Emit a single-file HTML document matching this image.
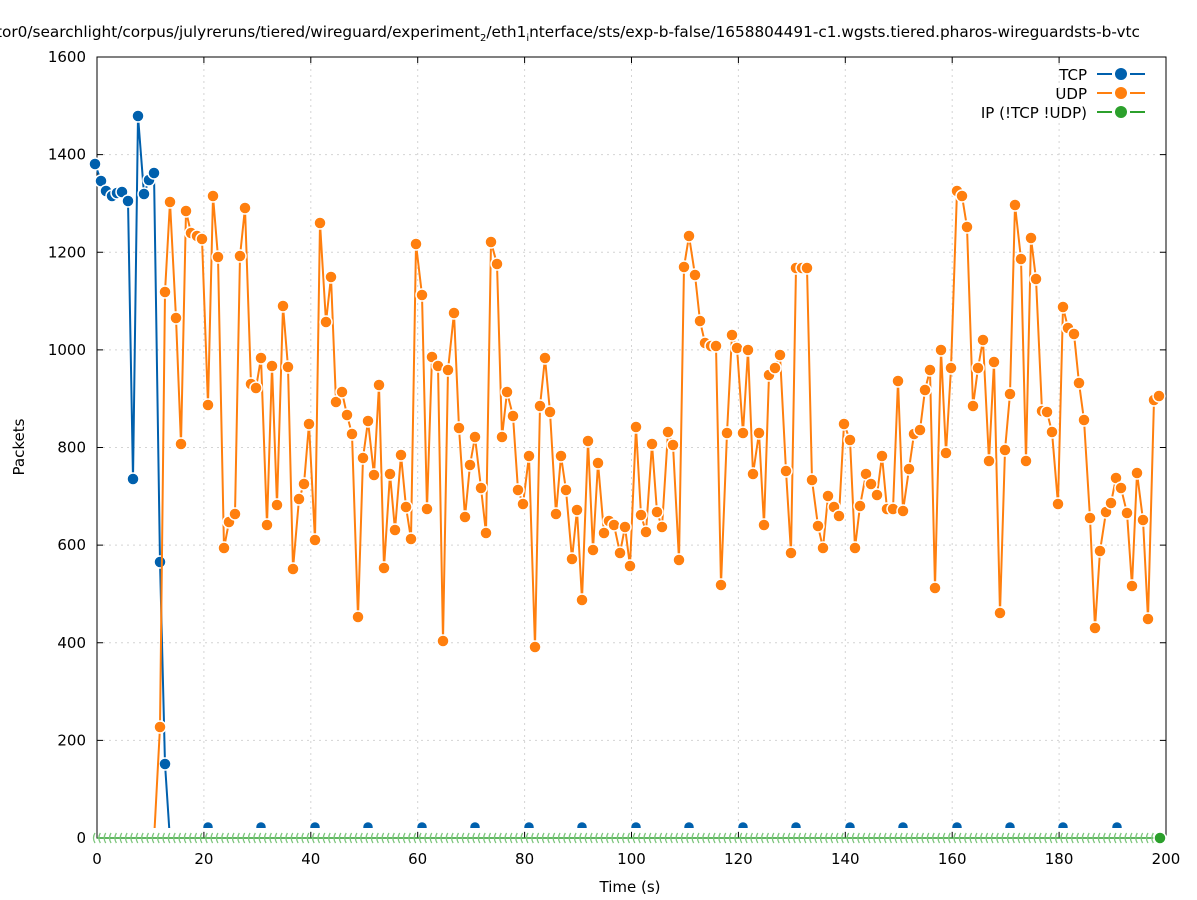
<!DOCTYPE html>
<html><head><meta charset="utf-8"><style>
html,body{margin:0;padding:0;background:#fff;width:1197px;height:900px;overflow:hidden}
svg{display:block;font-family:"DejaVu Sans","Liberation Sans",sans-serif}
</style></head><body>
<svg id="s" width="1197" height="900" viewBox="0 0 1197 900" xmlns="http://www.w3.org/2000/svg">
<defs><clipPath id="pc"><rect x="85" y="57" width="1085" height="771"/></clipPath></defs>
<g id="grid" stroke="#d4d4d4" stroke-width="1" stroke-dasharray="2,4"></g>
<g id="axes" stroke="#000" stroke-width="1" fill="none"></g>
<g id="labels" font-size="15" fill="#000"></g>
<text x="-4" y="37" font-size="15.3">tor0/searchlight/corpus/julyreruns/tiered/wireguard/experiment<tspan font-size="10" dy="4">2</tspan><tspan dy="-4">/eth1</tspan><tspan font-size="10" dy="4">i</tspan><tspan dy="-4">nterface/sts/exp-b-false/1658804491-c1.wgsts.tiered.pharos-wireguardsts-b-vtc</tspan></text>
<text x="630" y="892" font-size="15" text-anchor="middle">Time (s)</text>
<text transform="translate(24,447) rotate(-90)" font-size="15" text-anchor="middle">Packets</text>
<g id="data"></g>
<g font-size="15" text-anchor="end" xml:space="preserve" style="white-space:pre">
<text x="1087" y="80">TCP</text>
<text x="1087" y="99">UDP</text>
<text x="1087" y="118">IP (!TCP  !UDP)</text>
</g>
<g stroke-width="2">
<path d="M1097 74h15M1130 74h15" stroke="#0060ad"/><circle cx="1121" cy="74" r="6" fill="#0060ad"/>
<path d="M1097 93h15M1130 93h15" stroke="#ff7f0e"/><circle cx="1121" cy="93" r="6" fill="#ff7f0e"/>
<path d="M1097 112h15M1130 112h15" stroke="#2ca02c"/><circle cx="1121" cy="112" r="6" fill="#2ca02c"/>
</g>
</svg>
<script>
var NS="http://www.w3.org/2000/svg";
function el(p,t,a,txt){var e=document.createElementNS(NS,t);for(var k in a)e.setAttribute(k,a[k]);if(txt!=null)e.textContent=txt;p.appendChild(e);return e;}
var g=document.getElementById('grid'),ax=document.getElementById('axes'),lb=document.getElementById('labels');
var X0=97,X1=1166,Y0=838,Y1=57;
for(var i=0;i<=10;i++){var x=X0+(X1-X0)*i/10;if(i>0&&i<10)el(g,'line',{x1:x,y1:Y1,x2:x,y2:Y0});
 el(ax,'line',{x1:x,y1:Y0,x2:x,y2:Y0-6});el(ax,'line',{x1:x,y1:Y1,x2:x,y2:Y1+6});
 el(lb,'text',{x:x,y:864,'text-anchor':'middle'},String(i*20));}
for(var i=0;i<=8;i++){var y=Y0-(Y0-Y1)*i/8;if(i>0&&i<8)el(g,'line',{x1:X0,y1:y,x2:X1,y2:y});
 el(ax,'line',{x1:X0,y1:y,x2:X0+6,y2:y});el(ax,'line',{x1:X1,y1:y,x2:X1-6,y2:y});
 el(lb,'text',{x:86,y:y+5,'text-anchor':'end'},String(i*200));}
el(ax,'rect',{x:X0,y:Y1,width:X1-X0,height:Y0-Y1});
var d=document.getElementById('data');
var ip=el(d,'g',{});
el(ip,'line',{x1:X0,y1:838,x2:1160,y2:838,stroke:'#2ca02c','stroke-width':1.5});
for(var x=X0-4;x<1160;x+=5.345){el(ip,'path',{d:'M'+(x+2)+' 833 q-3 5 0 10',stroke:'#7cc57c','stroke-width':1.3,fill:'none'});}
el(ip,'circle',{cx:1160,cy:838,r:6,fill:'#2ca02c',stroke:'#fff','stroke-width':1.5});
var cg=el(d,'g',{'clip-path':'url(#pc)'});
var tcp=[[95,164],[101,181],[106,191],[112,196],[117,193],[122,192],[128,201],[133,479],[138,116],[144,194],[149,180],[154,173],[160,562],[165,764],[170,840]];
var udp=[[154,840],[160,727],[165,292],[170,202],[176,318],[181,444],[186,211],[191,233],[197,236],[202,239],[208,405],[213,196],[218,257],[224,548],[229,522],[235,514],[240,256],[245,208],[251,384],[256,388],[261,358],[267,525],[272,366],[277,505],[283,306],[288,367],[293,569],[299,499],[304,484],[309,424],[315,540],[320,223],[326,322],[331,277],[336,402],[342,392],[347,415],[352,434],[358,617],[363,458],[368,421],[374,475],[379,385],[384,568],[390,474],[395,530],[401,455],[406,507],[411,539],[416,244],[422,295],[427,509],[432,357],[438,366],[443,641],[448,370],[454,313],[459,428],[465,517],[470,465],[475,437],[481,488],[486,533],[491,242],[497,264],[502,437],[507,392],[513,416],[518,490],[523,504],[529,456],[535,647],[540,406],[545,358],[550,412],[556,514],[561,456],[566,490],[572,559],[577,510],[582,600],[588,441],[593,550],[598,463],[604,533],[609,521],[614,525],[620,553],[625,527],[630,566],[636,427],[641,515],[646,532],[652,444],[657,512],[662,527],[668,432],[673,445],[679,560],[684,267],[689,236],[695,275],[700,321],[705,343],[711,346],[716,346],[721,585],[727,433],[732,335],[737,348],[743,433],[748,350],[753,474],[759,433],[764,525],[769,375],[775,368],[780,355],[786,471],[791,553],[796,268],[802,268],[807,268],[812,480],[818,526],[823,548],[828,496],[834,507],[839,516],[844,424],[850,440],[855,548],[860,506],[866,474],[871,484],[877,495],[882,456],[887,509],[893,509],[898,381],[903,511],[909,469],[914,434],[920,430],[925,390],[930,370],[935,588],[941,350],[946,453],[951,368],[957,191],[962,196],[967,227],[973,406],[978,368],[983,340],[989,461],[994,362],[1000,613],[1005,450],[1010,394],[1015,205],[1021,259],[1026,461],[1031,238],[1036,279],[1042,411],[1047,412],[1052,432],[1058,504],[1063,307],[1068,328],[1074,334],[1079,383],[1084,420],[1090,518],[1095,628],[1100,551],[1106,512],[1111,503],[1116,478],[1121,488],[1127,513],[1132,586],[1137,473],[1143,520],[1148,619],[1154,400],[1159,396]];
function series(pts,col){
 el(cg,'polyline',{points:pts.map(function(p){return p.join(',')}).join(' '),fill:'none',stroke:col,'stroke-width':2});
 pts.forEach(function(p){if(p[1]<830)el(cg,'circle',{cx:p[0],cy:p[1],r:6,fill:col,stroke:'#fff','stroke-width':1.5});});
}
series(tcp,'#0060ad');
series(udp,'#ff7f0e');
[208,261,315,368,422,475,529,582,636,689,743,796,850,903,957,1010,1063,1117].forEach(function(x){
 el(cg,'circle',{cx:x,cy:827,r:5.5,fill:'#0060ad',stroke:'#fff','stroke-width':1.5});});
</script>
</body></html>
